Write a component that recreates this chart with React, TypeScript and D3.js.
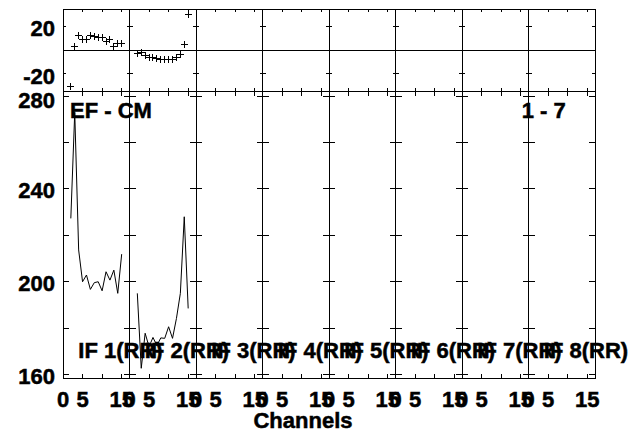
import React from "react";
import * as d3 from "d3";

// ---- data ----
const channels = [2, 3, 4, 5, 6, 7, 8, 9, 10, 11, 12, 13, 14, 15];
const panelLabels = ["IF 1(RR)", "IF 2(RR)", "IF 3(RR)", "IF 4(RR)", "IF 5(RR)", "IF 6(RR)", "IF 7(RR)", "IF 8(RR)"];
// amplitude (lower panel), IF 1 and IF 2
const ampIF1 = [227.3, 273, 213.7, 200, 202.9, 196.7, 199.6, 200, 196.1, 204.3, 200.7, 205, 195, 211.9];
const ampIF2 = [195, 162.7, 177.8, 172, 176, 172.5, 175.8, 175.6, 180.6, 175.6, 184.2, 195, 228, 188.5];
// phase (upper panel), IF 1 and IF 2
const phIF1 = [-30.3, 2.9, 12, 9.2, 9.2, 12, 11.5, 10.9, 10.7, 6.9, 8.6, 3.5, 6, 5.8];
const phIF2 = [-2.7, -2.2, -4.9, -6, -6.2, -7, -7.9, -8.3, -7.9, -7.7, -5.8, -3.3, 4.9, 30.4];
const ampSeries = [ampIF1, ampIF2];
const phSeries = [phIF1, phIF2];
const xTicks = [0, 5, 10, 15];
const xTickLabels = ["0", "5", "", "15"];
const ampTicks = [160, 180, 200, 220, 240, 260, 280];
const ampTickLabels = [160, 200, 240, 280];
const phTicks = [-20, 0, 20];
const phTickLabels = [-20, 20];
const title = "EF - CM";
const rangeLabel = "1 - 7";
const xTitle = "Channels";

// ---- layout ----
const W = 636, H = 432;
const left = 63, right = 595;
const topTop = 9.3, topBottom = 91, mainBottom = 378.5;
const nP = panelLabels.length;
const pw = (right - left) / nP;
const FONT = "'Liberation Sans', Arial, Helvetica, sans-serif";

export default function App() {
  const yAmp = d3.scaleLinear().domain([158.3, 282.2]).range([mainBottom, topBottom]);
  const yPh = d3.scaleLinear().domain([-34.5, 34.5]).range([topBottom, topTop]);
  const xs = panelLabels.map((_, i) =>
    d3.scaleLinear().domain([0, 17]).range([left + i * pw, left + (i + 1) * pw])
  );
  const line = (x: d3.ScaleLinear<number, number>, vals: number[]) =>
    d3.line<number>().x((_, j) => x(channels[j])).y((v) => yAmp(v))(vals) || "";

  const els: React.ReactNode[] = [];
  const txt: React.ReactNode[] = [];
  xs.forEach((x, i) => {
    const x0 = left + i * pw, x1 = x0 + pw;
    xTicks.forEach((t, k) => {
      if (t === 0) return;
      const xx = x(t);
      els.push(<line key={`xb${i}${k}`} x1={xx} x2={xx} y1={mainBottom} y2={mainBottom - 5} />);
      els.push(<line key={`xt${i}${k}`} x1={xx} x2={xx} y1={topBottom} y2={topBottom + 5} />);
      els.push(<line key={`pt${i}${k}`} x1={xx} x2={xx} y1={topTop} y2={topTop + 3} />);
      els.push(<line key={`pb${i}${k}`} x1={xx} x2={xx} y1={topBottom} y2={topBottom - 3} />);
    });
    ampTicks.forEach((t, k) => {
      const yy = yAmp(t);
      els.push(<line key={`yl${i}${k}`} x1={x0} x2={x0 + 6} y1={yy} y2={yy} />);
      els.push(<line key={`yr${i}${k}`} x1={x1} x2={x1 - 6} y1={yy} y2={yy} />);
    });
    phTicks.forEach((t, k) => {
      const yy = yPh(t);
      els.push(<line key={`ql${i}${k}`} x1={x0} x2={x0 + 3} y1={yy} y2={yy} />);
      els.push(<line key={`qr${i}${k}`} x1={x1} x2={x1 - 3} y1={yy} y2={yy} />);
    });
    if (i > 0) els.push(<line key={`dv${i}`} x1={x0} x2={x0} y1={topTop} y2={mainBottom} />);
    xTicks.forEach((t, k) => {
      if (!xTickLabels[k]) return;
      txt.push(
        <text key={`xl${i}${k}`} x={x(t)} y={406.5} textAnchor="middle">
          {xTickLabels[k]}
        </text>
      );
    });
    txt.push(
      <text key={`pl${i}`} x={x0 + 15.3} y={358}>
        {panelLabels[i]}
      </text>
    );
  });

  ampSeries.forEach((vals, i) => {
    els.push(<path key={`al${i}`} d={line(xs[i], vals)} fill="none" stroke="#000" strokeWidth={1} shapeRendering="auto" />);
  });
  phSeries.forEach((vals, i) => {
    vals.forEach((v, j) => {
      const cx = xs[i](channels[j]), cy = yPh(v);
      els.push(
        <path key={`pp${i}-${j}`} d={`M${cx - 3.5},${cy}H${cx + 3.5}M${cx},${cy - 3.5}V${cy + 3.5}`} />
      );
    });
  });

  return (
    <svg
      width={W}
      height={H}
      style={{ position: "absolute", left: 0, top: 0, background: "#fff" }}
    >
      <rect x={0} y={0} width={W} height={H} fill="#fff" />
      <g stroke="#000" strokeWidth={1} fill="none" shapeRendering="crispEdges">
        <rect x={left} y={topTop} width={right - left} height={mainBottom - topTop} />
        <line x1={left} x2={right} y1={topBottom} y2={topBottom} />
        <line x1={left} x2={right} y1={yPh(0)} y2={yPh(0)} />
        {els}
      </g>
      <g fontFamily={FONT} fontWeight="bold" fontSize={22} fill="#000" stroke="#000" strokeWidth={0.5}>
        {ampTickLabels.map((t) => (
          <text key={`a${t}`} x={55} y={Math.max(yAmp(t) + 2, topBottom + 9)} textAnchor="end" dominantBaseline="central">
            {t}
          </text>
        ))}
        {phTickLabels.map((t) => (
          <text key={`p${t}`} x={55} y={yPh(t) + 2.5} textAnchor="end" dominantBaseline="central">
            {t}
          </text>
        ))}
        {txt}
        <text x={70} y={118}>{title}</text>
        <text x={521.7} y={118}>{rangeLabel}</text>
        <text x={303} y={428} textAnchor="middle">{xTitle}</text>
      </g>
    </svg>
  );
}
